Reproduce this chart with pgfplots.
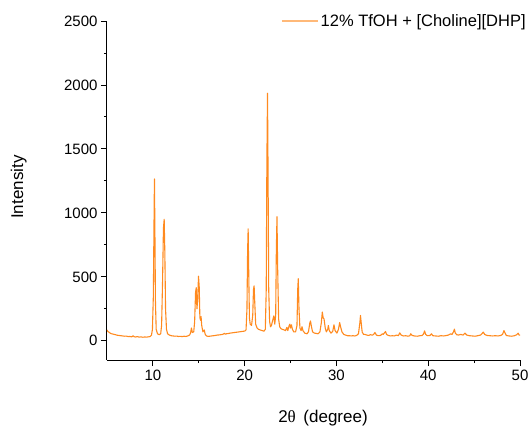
\documentclass[border=0pt]{standalone}
\usepackage{fontspec}
\setmainfont{Liberation Sans}
\newfontfamily\grk{Liberation Serif}
\usepackage{pgfplots}
\pgfplotsset{compat=1.18}
\usetikzlibrary{calc}
\definecolor{xrd}{HTML}{FF8A1F}

\begin{document}
\begin{tikzpicture}
\begin{axis}[
  scale only axis, width=413pt, height=339pt,
  xmin=5, xmax=50, ymin=-150, ymax=2500,
  axis lines=left, axis line style={-, line width=1pt},
  xtick={10,20,...,50}, ytick={0,500,...,2500},
  minor x tick num=1, minor y tick num=1,
  tick align=outside, major tick length=6pt, minor tick length=3pt,
  tick style={black, line width=0.9pt},
  /pgf/number format/assume math mode=true,
  /pgf/number format/1000 sep={},
  tick label style={font=\fontsize{15}{18}\selectfont},
  xlabel={2{\grk θ} \,(degree)}, ylabel={Intensity},
  label style={font=\fontsize{17}{20}\selectfont},
  xlabel style={at={(axis description cs:0.523,-0.171)}, anchor=center},
  ylabel style={at={(axis description cs:-0.214,0.51)}, anchor=center},
  legend style={draw=none, fill=none, at={(1.019,1.0)}, anchor=east,
    inner xsep=0pt, inner ysep=0pt, font=\fontsize{16.5}{20}\selectfont},
  legend cell align=left,
  legend image code/.code={\draw[xrd!60, line width=1.4pt] (0pt,0pt) -- (36pt,0pt);},
]
\addplot[xrd, line width=1.1pt, line join=round] coordinates {
(5.00,85)(5.10,72)(5.20,68)(5.35,60)(5.50,55)(5.70,52)(5.90,48)(6.10,44)(6.30,42)(6.50,40)
(6.70,38)(6.90,36)(7.10,37)(7.30,33)(7.50,34)(7.70,31)(7.85,40)(7.95,32)(8.10,30)(8.30,33)
(8.50,29)(8.70,31)(8.90,28)(9.10,30)(9.30,29)(9.50,31)(9.70,33)(9.85,45)(9.95,90)(10.05,350)
(10.12,900)(10.17,1265)(10.22,850)(10.28,300)(10.36,90)(10.50,55)(10.70,48)(10.85,55)(10.95,120)
(11.05,450)(11.15,880)(11.23,950)(11.30,700)(11.38,250)(11.48,90)(11.60,55)(11.80,45)(12.00,40)
(12.20,38)(12.40,36)(12.60,37)(12.80,34)(13.00,35)(13.20,33)(13.40,36)(13.60,34)(13.80,38)
(14.00,45)(14.10,60)(14.20,100)(14.30,65)(14.45,70)(14.55,150)(14.65,380)(14.72,415)(14.80,250)
(14.88,320)(14.97,505)(15.05,420)(15.12,180)(15.20,160)(15.25,190)(15.32,120)(15.45,70)(15.60,85)
(15.70,50)(15.85,38)(16.00,35)(16.20,36)(16.40,38)(16.60,40)(16.80,42)(17.00,45)(17.20,46)
(17.40,48)(17.60,50)(17.80,58)(17.90,52)(18.00,55)(18.20,57)(18.40,60)(18.60,62)(18.80,64)
(19.00,66)(19.20,68)(19.40,70)(19.60,72)(19.80,74)(20.00,76)(20.15,85)(20.25,250)(20.32,700)
(20.38,875)(20.45,500)(20.52,180)(20.60,130)(20.75,120)(20.88,200)(20.96,400)(21.03,430)(21.10,300)
(21.20,130)(21.35,100)(21.50,90)(21.70,85)(21.90,80)(22.10,75)(22.25,90)(22.35,400)(22.42,1400)
(22.49,1935)(22.55,1300)(22.62,400)(22.72,150)(22.82,110)(22.92,120)(23.05,160)(23.18,195)(23.28,130)
(23.38,200)(23.45,700)(23.52,970)(23.60,550)(23.70,170)(23.82,110)(23.95,95)(24.10,90)(24.30,85)
(24.45,80)(24.60,105)(24.70,80)(24.85,120)(24.92,130)(25.00,100)(25.10,125)(25.20,90)(25.35,70)
(25.55,70)(25.70,120)(25.78,400)(25.84,485)(25.92,250)(26.02,100)(26.15,80)(26.25,110)(26.35,80)
(26.55,60)(26.80,55)(26.95,70)(27.10,140)(27.17,155)(27.28,110)(27.40,70)(27.60,60)(27.80,58)
(28.00,55)(28.20,70)(28.35,140)(28.46,225)(28.55,180)(28.65,170)(28.78,100)(28.90,70)(29.05,90)
(29.12,120)(29.22,80)(29.40,60)(29.60,75)(29.73,125)(29.85,80)(30.05,60)(30.22,90)(30.35,143)
(30.45,110)(30.60,70)(30.80,50)(31.00,45)(31.20,40)(31.40,40)(31.60,38)(31.80,40)(32.00,38)
(32.20,42)(32.40,55)(32.55,140)(32.62,198)(32.70,140)(32.80,70)(32.95,50)(33.10,50)(33.30,45)
(33.50,42)(33.70,48)(33.90,44)(34.05,50)(34.20,65)(34.35,45)(34.55,40)(34.80,42)(35.00,55)
(35.10,50)(35.25,65)(35.35,73)(35.45,50)(35.65,42)(35.90,38)(36.10,40)(36.30,38)(36.55,45)
(36.75,40)(36.90,62)(37.05,45)(37.30,38)(37.55,40)(37.80,36)(38.00,40)(38.10,55)(38.25,42)
(38.50,38)(38.80,36)(39.10,40)(39.35,42)(39.50,55)(39.60,78)(39.72,50)(39.90,40)(40.20,42)
(40.35,55)(40.50,40)(40.80,38)(41.10,36)(41.40,40)(41.70,38)(42.00,42)(42.20,45)(42.45,55)
(42.60,50)(42.75,70)(42.85,91)(42.95,60)(43.10,48)(43.30,45)(43.55,50)(43.80,45)(44.00,60)
(44.20,45)(44.50,40)(44.80,38)(45.10,36)(45.40,40)(45.70,45)(45.90,60)(46.00,68)(46.15,50)
(46.40,42)(46.70,40)(47.00,38)(47.30,40)(47.60,38)(47.90,42)(48.10,50)(48.25,80)(48.35,65)
(48.50,42)(48.80,38)(49.10,36)(49.40,40)(49.65,48)(49.80,60)(49.90,45)(50.00,45)
};
\addlegendentry{12\% TfOH + [Choline][DHP]}
\coordinate (ll) at (rel axis cs:0,0);
\coordinate (ur) at (rel axis cs:1,1);
\end{axis}
\path ($(ll)+(-107pt,-70pt)$) rectangle ($(ur)+(12pt,21pt)$);
\end{tikzpicture}
\end{document}
